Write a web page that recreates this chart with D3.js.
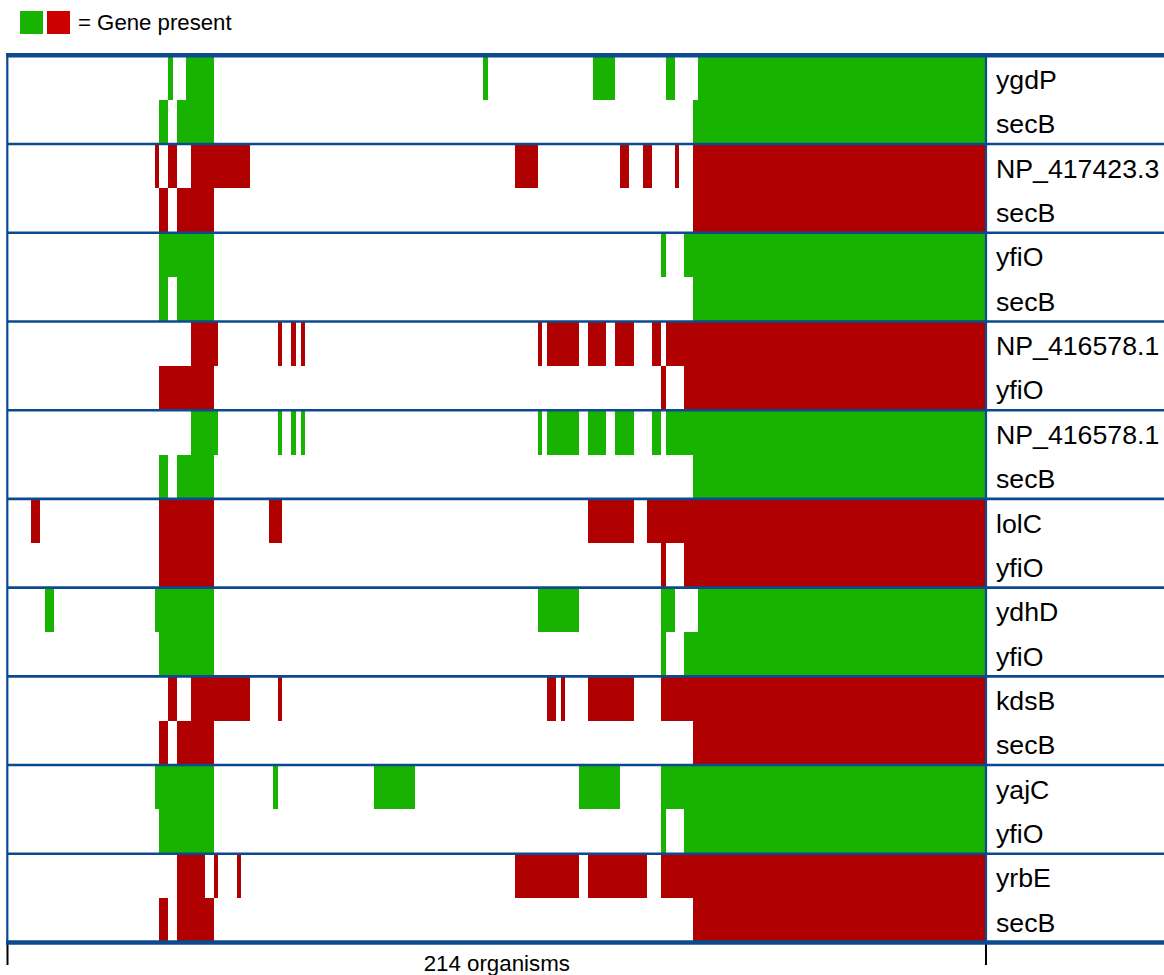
<!DOCTYPE html>
<html>
<head>
<meta charset="utf-8">
<script src="https://cdn.jsdelivr.net/npm/d3@7"></script>
<style>
  html, body { margin: 0; padding: 0; background: #fff; }
  svg { display: block; font-family: "Liberation Sans", Arial, Helvetica, sans-serif; }
</style>
</head>
<body>
<svg id="chart" width="1164" height="975"></svg>
<script>
// ---- Data (organism index ranges [start, end) where gene is present; 214 organisms) ----
const nOrganisms = 214;
const secB       = [[33,35],[37,45],[150,214]];
const yfiO       = [[33,45],[143,144],[148,214]];
const ygdP       = [[35,36],[39,45],[104,105],[128,133],[144,146],[151,214]];
const NP_417423_3 = [[32,33],[35,37],[40,53],[111,116],[134,136],[139,141],[146,147],[150,214]];
const NP_416578_1 = [[40,46],[59,60],[62,63],[64,65],[116,117],[118,125],[127,131],[133,137],[141,143],[144,214]];
const lolC       = [[5,7],[33,45],[57,60],[127,137],[140,214]];
const ydhD       = [[8,10],[32,45],[116,125],[143,146],[151,214]];
const kdsB       = [[35,37],[40,53],[59,60],[118,120],[121,122],[127,137],[143,214]];
const yajC       = [[32,45],[58,59],[80,89],[125,134],[143,214]];
const yrbE       = [[37,43],[45,46],[50,51],[111,125],[127,140],[143,214]];

const geneNames = ["ygdP","NP_417423.3","yfiO","NP_416578.1","NP_416578.1","lolC","ydhD","kdsB","yajC","yrbE"];
const partnerNames = ["secB","secB","secB","yfiO","secB","yfiO","yfiO","secB","yfiO","secB"];
const genePresence = [ygdP, NP_417423_3, yfiO, NP_416578_1, NP_416578_1, lolC, ydhD, kdsB, yajC, yrbE];
const partnerPresence = [secB, secB, secB, yfiO, secB, yfiO, yfiO, secB, yfiO, secB];
const pairColors = ["green","red","green","red","green","red","green","red","green","red"];
const legendText = "= Gene present";
const axisText = nOrganisms + " organisms";

// ---- Layout ----
const COLORS = { green: "#18b300", red: "#b00000", legendRed: "#cc0000", blue: "#0b4a8e" };
const plotL = 8.5, plotR = 985, plotT = 55.3, plotB = 942.5, labelX = 996;

const svg = d3.select("#chart");
const x = d3.scaleLinear().domain([0, nOrganisms]).range([plotL, plotR]);
const groups = d3.scaleBand().domain(d3.range(geneNames.length)).range([plotT, plotB]).padding(0);
const rowH = groups.bandwidth() / 2;

const pairs = geneNames.map((g, i) => ({
  i,
  rows: [
    { name: g, ranges: genePresence[i] },
    { name: partnerNames[i], ranges: partnerPresence[i] }
  ],
  color: COLORS[pairColors[i]]
}));

const gPairs = svg.append("g").selectAll("g.pair").data(pairs).join("g")
  .attr("class", "pair")
  .attr("transform", d => `translate(0,${groups(d.i)})`);

gPairs.each(function(p) {
  const g = d3.select(this);
  p.rows.forEach((r, ri) => {
    g.selectAll(null).data(r.ranges).join("rect")
      .attr("x", d => x(d[0]))
      .attr("width", d => x(d[1]) - x(d[0]))
      .attr("y", ri * rowH)
      .attr("height", rowH)
      .attr("fill", p.color)
      .attr("shape-rendering", "crispEdges");
  });
  g.selectAll("text.lbl").data(p.rows).join("text")
    .attr("class", "lbl")
    .attr("x", labelX)
    .attr("y", (d, ri) => ri * rowH + rowH / 2 + 11.5)
    .attr("font-size", 26.7)
    .attr("fill", "#000")
    .text(d => d.name);
});

// group separators
svg.append("g").selectAll("line").data(d3.range(1, geneNames.length)).join("line")
  .attr("x1", plotL - 1.5).attr("x2", 1164)
  .attr("y1", d => groups(d)).attr("y2", d => groups(d))
  .attr("stroke", COLORS.blue).attr("stroke-width", 2.6);

// frame
svg.append("line").attr("x1", plotL - 2.5).attr("x2", 1164).attr("y1", plotT).attr("y2", plotT)
  .attr("stroke", COLORS.blue).attr("stroke-width", 4.5);
svg.append("line").attr("x1", plotL - 2.5).attr("x2", 1164).attr("y1", plotB).attr("y2", plotB)
  .attr("stroke", COLORS.blue).attr("stroke-width", 4.5);
svg.append("line").attr("x1", 7.3).attr("x2", 7.3).attr("y1", plotT).attr("y2", plotB)
  .attr("stroke", COLORS.blue).attr("stroke-width", 2.2);
svg.append("line").attr("x1", plotR + 1).attr("x2", plotR + 1).attr("y1", plotT).attr("y2", plotB)
  .attr("stroke", COLORS.blue).attr("stroke-width", 2.2);

// bottom axis ticks
svg.append("g").selectAll("line").data([0, nOrganisms]).join("line")
  .attr("x1", (d, i) => i === 0 ? 7.5 : plotR + 1).attr("x2", (d, i) => i === 0 ? 7.5 : plotR + 1)
  .attr("y1", plotB + 2).attr("y2", 965)
  .attr("stroke", "#000").attr("stroke-width", 2);
svg.append("text")
  .attr("x", (x(0) + x(nOrganisms)) / 2).attr("y", 971)
  .attr("text-anchor", "middle").attr("font-size", 22.3).attr("fill", "#000")
  .text(axisText);

// legend
svg.append("rect").attr("x", 20).attr("y", 11).attr("width", 23).attr("height", 23).attr("fill", COLORS.green);
svg.append("rect").attr("x", 47).attr("y", 11).attr("width", 23).attr("height", 23).attr("fill", COLORS.legendRed);
svg.append("text").attr("x", 78).attr("y", 30).attr("font-size", 22.2).attr("fill", "#000").text(legendText);
</script>
</body>
</html>
